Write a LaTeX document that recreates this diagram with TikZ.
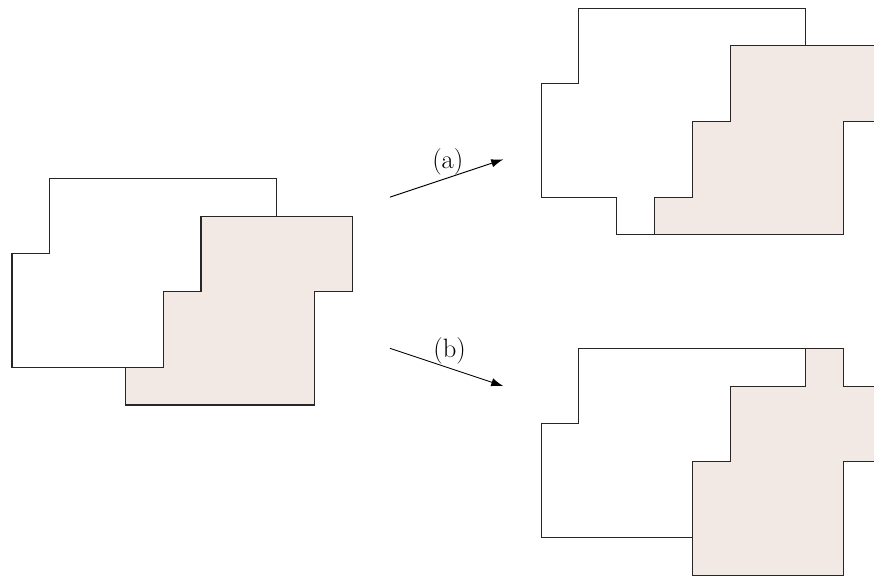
\documentclass[tikz,border=0pt]{standalone}
\usetikzlibrary{arrows.meta}
\definecolor{shade}{RGB}{243,233,228}
\tikzset{
  outline/.style={draw=black!85, line width=0.8pt, line join=miter},
  whitepart/.style={outline, fill=white},
  shadepart/.style={outline, fill=shade},
  maparrow/.style={-{Latex[length=3.2mm,width=2.2mm]}, line width=0.7pt},
  lab/.style={font=\fontsize{20}{24}\selectfont, inner sep=0pt}
}
\begin{document}
\begin{tikzpicture}
\useasboundingbox (-0.3175,-4.524) rectangle (22.807,10.716);
\clip (-0.3175,-4.524) rectangle (22.807,10.716);
% left figure
\draw[whitepart] (1,6) -- (7,6) -- (7,5) -- (5,5) -- (5,3) -- (4,3) -- (4,1) -- (0,1) -- (0,4) -- (1,4) -- cycle;
\draw[shadepart] (3,0) -- (3,1) -- (4,1) -- (4,3) -- (5,3) -- (5,5) -- (9,5) -- (9,3) -- (8,3) -- (8,0) -- cycle;
% (a)
\begin{scope}[shift={(14,4.5)}]
\draw[whitepart] (1,6) -- (7,6) -- (7,5) -- (5,5) -- (5,3) -- (4,3) -- (4,1) -- (3,1) -- (3,0) -- (2,0) -- (2,1) -- (0,1) -- (0,4) -- (1,4) -- cycle;
\draw[shadepart] (3,0) -- (3,1) -- (4,1) -- (4,3) -- (5,3) -- (5,5) -- (9,5) -- (9,3) -- (8,3) -- (8,0) -- cycle;
\end{scope}
% (b)
\begin{scope}[shift={(14,-4.5)}]
\draw[whitepart] (1,6) -- (7,6) -- (7,5) -- (5,5) -- (5,3) -- (4,3) -- (4,1) -- (0,1) -- (0,4) -- (1,4) -- cycle;
\draw[shadepart] (4,0) -- (4,3) -- (5,3) -- (5,5) -- (7,5) -- (7,6) -- (8,6) -- (8,5) -- (9,5) -- (9,3) -- (8,3) -- (8,0) -- cycle;
\end{scope}
% arrows
\coordinate (a1) at (10,5.5);
\coordinate (a2) at (13,6.5);
\coordinate (b1) at (10,1.5);
\coordinate (b2) at (13,0.5);
\draw[maparrow] (a1) -- (a2);
\draw[maparrow] (b1) -- (b2);
\node[lab] (la) at (11.53,6.42) {(a)};
\node[lab] (lb) at (11.58,1.43) {(b)};
\end{tikzpicture}
\end{document}
